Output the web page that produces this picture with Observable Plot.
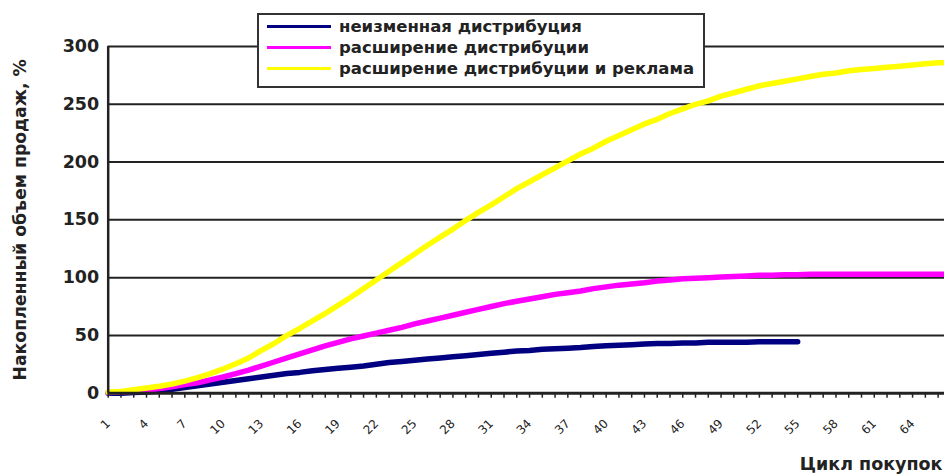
<!DOCTYPE html>
<html>
<head>
<meta charset="utf-8">
<script src="https://cdn.jsdelivr.net/npm/d3@7"></script>
<script src="https://cdn.jsdelivr.net/npm/@observablehq/plot@0.6"></script>
<style>
  html, body { margin: 0; padding: 0; background: #fff; }
  #wrap { position: relative; width: 944px; height: 475px; overflow: hidden; }
  #legend { position: absolute; left: 257px; top: 13px; width: 444px; height: 71px;
            border: 2px solid #333; background: #fff; font: bold 16.5px "DejaVu Sans", sans-serif; color: #222; }
  .row { position: absolute; left: 8px; height: 21px; display: flex; align-items: center; white-space: nowrap; }
  .sw { width: 64px; height: 3px; margin-right: 8px; }
</style>
</head>
<body>
<div id="wrap"></div>
<script>
// ---- data ----
const cycles = [1,2,3,4,5,6,7,8,9,10,11,12,13,14,15,16,17,18,19,20,21,22,23,24,25,26,27,28,29,30,
  31,32,33,34,35,36,37,38,39,40,41,42,43,44,45,46,47,48,49,50,51,52,53,54,55,56,57,58,59,60,
  61,62,63,64,65,66,67];
const xTickLabels = [1,4,7,10,13,16,19,22,25,28,31,34,37,40,43,46,49,52,55,58,61,64];
const yTicks = [0,50,100,150,200,250,300];

const seriesNames = ["неизменная дистрибуция", "расширение дистрибуции", "расширение дистрибуции и реклама"];
const seriesColors = ["#000080", "#FF00FF", "#FFFF00"];

// неизменная дистрибуция (cycles 1..55)
const unchanged = [0,0,0.5,1,2,3.5,5,6.5,8,9.5,11,12.5,14,15.5,17,18,19.5,20.5,21.5,22.5,
  23.5,25,26.5,27.5,28.5,29.5,30.5,31.5,32.5,33.5,34.5,35.5,36.5,37,38,38.5,39,39.5,40.5,41,
  41.5,42,42.5,43,43,43.5,43.5,44,44,44,44,44.5,44.5,44.5,44.5];
// расширение дистрибуции (cycles 1..67)
const expanded = [0.5,1,1.5,2.5,4,5.5,7.5,9,11.5,14,17,20,23.5,27,30.5,34,37.5,41,44,47,
  49.5,52,54.5,57,60,62.5,65,67.5,70,72.5,75,77.5,79.5,81.5,83.5,85.5,87,88.5,90.5,92,
  93.5,94.5,95.5,97,98,99,99.5,100,100.5,101,101.5,102,102,102.5,102.5,103,103,103,103,103,
  103,103,103,103,103,103,103];
// расширение дистрибуции и реклама (cycles 1..67)
const expandedAds = [1,1.5,3,4.5,6,8,10.5,13.5,17,21,25.5,30.5,37,43,50,56,62.5,69,76,83,
  90.5,98,105.5,113,120.5,128,135,142,149.5,156.5,163,170,177,183,189,195,201,207,212,218,
  223,228,233,237,242,246,250,253,257,260,263,266,268,270,272,274,276,277,279,280,
  281,282,283,284,285,286,286];

const yTitle = "Накопленный объем продаж, %";
const xTitle = "Цикл покупок";

// ---- build ----
const seriesValues = [unchanged, expanded, expandedAds];
const rows = seriesValues.map((vals, s) => vals.map((v, i) => ({cycle: cycles[i], value: v, series: seriesNames[s]})));

const lineOpts = (s) => ({x: "cycle", y: "value", stroke: seriesColors[s], strokeWidth: 5.5,
  strokeLinecap: "round", strokeLinejoin: "round", curve: "linear"});

const plot = Plot.plot({
  width: 944,
  height: 475,
  marginLeft: 107.7,
  marginRight: 0,
  marginTop: 46,
  marginBottom: 82.3,
  style: {fontFamily: "'DejaVu Sans', sans-serif", background: "#fff", color: "#222"},
  x: {type: "linear", domain: [1, 66.5]},
  y: {domain: [0, 300]},
  marks: [
    Plot.gridY(yTicks.filter(d => d > 0), {stroke: "#222", strokeOpacity: 1, strokeWidth: 2}),
    Plot.line(rows[0], lineOpts(0)),
    Plot.line(rows[1], lineOpts(1)),
    Plot.line(rows[2], lineOpts(2)),
    Plot.ruleY([0], {stroke: "#222", strokeWidth: 3}),
    Plot.ruleX([1], {stroke: "#222", strokeWidth: 2.5}),
    Plot.axisX({ticks: cycles, tickSize: 5, tickFormat: () => "", stroke: "#222", strokeWidth: 1.5, label: null}),
    // rotated category labels, placed below the axis in y-scale units
    Plot.text(xTickLabels, {x: d => d, y: () => -24.5, rotate: -45, textAnchor: "end",
      lineAnchor: "middle", fontSize: 12, fill: "#222", text: d => String(d), ariaLabel: "x-tick-labels"}),
    Plot.axisY({ticks: yTicks, tickSize: 0, tickPadding: 9, fontSize: 17.5, fontWeight: "bold", label: null, fill: "#222"}),
    Plot.text([yTitle], {frameAnchor: "left", dx: -87.7, rotate: -90, fontSize: 17.3, fontWeight: "bold",
      fill: "#222", lineAnchor: "middle", textAnchor: "middle"}),
    Plot.text([xTitle], {frameAnchor: "bottom-right", dx: -2, dy: 71.3, textAnchor: "end",
      lineAnchor: "middle", fontSize: 17.5, fontWeight: "bold", fill: "#222"})
  ]
});

// apply the label rotation as a CSS transform (same geometry as Plot's translate + rotate)
plot.querySelectorAll('g[aria-label="x-tick-labels"] text').forEach(t => {
  const m = /translate\(\s*([-\d.e]+)[ ,]+([-\d.e]+)\s*\)/.exec(t.getAttribute("transform") || "");
  if (!m) return;
  t.removeAttribute("transform");
  t.style.transform = `translate(${m[1]}px, ${m[2]}px) rotate(-45deg)`;
  t.style.transformOrigin = "0px 0px";
  t.style.transformBox = "view-box";
});

const wrap = document.getElementById("wrap");
wrap.appendChild(plot);

const legend = document.createElement("div");
legend.id = "legend";
seriesNames.forEach((name, i) => {
  const row = document.createElement("div");
  row.className = "row";
  row.style.top = (0.5 + i * 21.2) + "px";
  const sw = document.createElement("div");
  sw.className = "sw";
  sw.style.background = seriesColors[i];
  const label = document.createElement("span");
  label.textContent = name;
  row.appendChild(sw);
  row.appendChild(label);
  legend.appendChild(row);
});
wrap.appendChild(legend);
</script>
</body>
</html>
